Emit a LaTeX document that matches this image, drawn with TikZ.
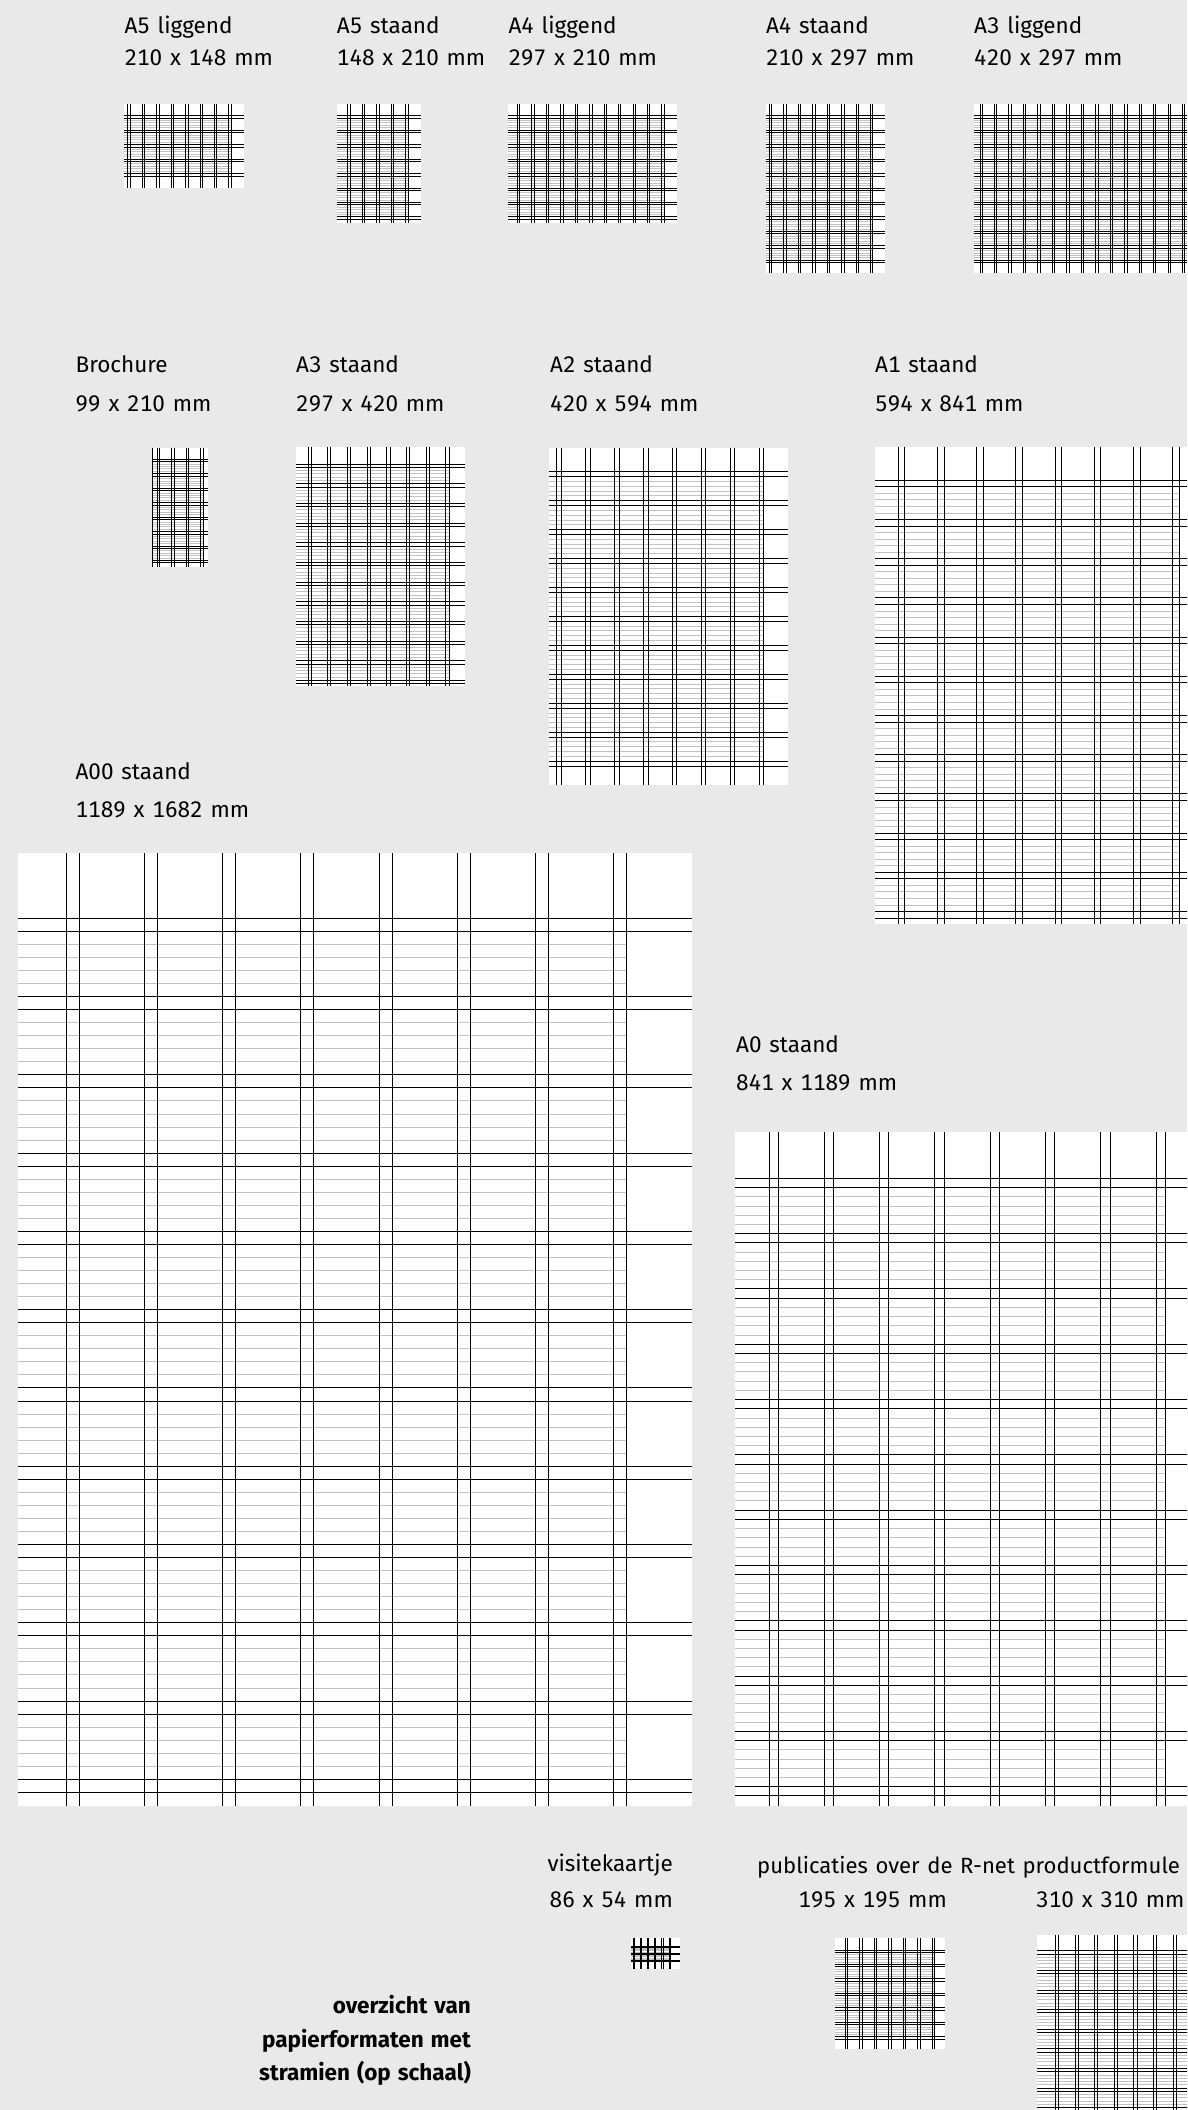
\documentclass[tikz,border=0pt]{standalone}
\usepackage{fontspec}
\setmainfont{Fira Sans}[Numbers=Monospaced,WordSpace=1.3]
\definecolor{bgc}{RGB}{233,233,233}
\tikzset{
  darkln/.style={draw=black,line width=0.9pt},
  lightln/.style={draw=black!24,line width=0.9pt},
  lbl/.style={font=\fontsize{22.5}{27}\selectfont,inner sep=0pt,anchor=base west},
  lblr/.style={lbl,anchor=base east},
  lblb/.style={lbl,anchor=base east,font=\fontsize{22.5}{27}\selectfont\bfseries},
}
% #1 x, #2 y, #3 w, #4 h, #5 module, #6 first vertical, #7 column pairs, #8 first horizontal, #9 row pairs
\newcommand{\stramien}[9]{%
  \pgfmathsetmacro{\sxL}{#6+(6*(#7-1)+1)*#5}%
  \pgfmathtruncatemacro{\snr}{#9-2}%
  \pgfmathtruncatemacro{\snrr}{#9-1}%
  \pgfmathtruncatemacro{\sncc}{#7-1}%
  \fill[white] (#1,#2) rectangle ({#1+#3},{#2+#4});
  \ifnum\snr>-1
  \foreach \ii in {0,...,\snr}{\foreach \jj in {2,...,5}{%
    \draw[lightln] (#1,{#8+(6*\ii+\jj)*#5}) -- (\sxL,{#8+(6*\ii+\jj)*#5});}}
  \fi
  \foreach \ii in {0,...,\snrr}{\foreach \jj in {0,1}{%
    \draw[darkln] (#1,{#8+(6*\ii+\jj)*#5}) -- ({#1+#3},{#8+(6*\ii+\jj)*#5});}}
  \foreach \ii in {0,...,\sncc}{\foreach \jj in {0,1}{%
    \draw[darkln] ({#6+(6*\ii+\jj)*#5},#2) -- ({#6+(6*\ii+\jj)*#5},{#2+#4});}}
}
\begin{document}
\begin{tikzpicture}[x=1pt,y=-1pt]
\fill[bgc] (0,0) rectangle (1187,2110);
\useasboundingbox (0,0) rectangle (1187,2110);
\begin{scope}
\clip (0,0) rectangle (1187,2110);
% row 1
\stramien{124.3}{104}{119.2}{84}{2.41}{127.7}{8}{115.7}{5}
\stramien{336.5}{104}{84}{119.2}{2.41}{347.7}{5}{115.7}{8}
\stramien{508.3}{104}{168.5}{119.2}{2.41}{517.3}{11}{115.7}{8}
\stramien{765.5}{104}{119.2}{168.5}{2.41}{769.3}{8}{115.7}{11}
\stramien{973.5}{104}{238.3}{168.5}{2.41}{980}{16}{115.7}{11}
% row 2
\stramien{152}{447.7}{56.2}{119}{2.41}{157.3}{4}{459.3}{8}
\draw[darkln] (152.6,447.7) -- (152.6,566.7);
\stramien{296}{447}{168.5}{238.5}{3.278}{308}{8}{464}{12}
\stramien{549}{447.7}{239}{337}{4.825}{556.3}{8}{471.7}{11}
\stramien{875}{446.7}{337}{477}{6.533}{898.3}{8}{480.3}{12}
% large
\stramien{17.7}{852.7}{674.5}{953}{13.045}{66}{8}{918.3}{12}
\stramien{735}{1131.7}{477}{674}{9.217}{769}{8}{1178.3}{12}
% bottom
\stramien{631}{1938}{48.8}{30.6}{1.2}{633}{6}{1946}{3}
\stramien{834.5}{1938}{110.6}{110.6}{2.41}{845.3}{7}{1950}{7}
\stramien{1036.5}{1935}{176}{176}{3.27}{1055.4}{8}{1950.7}{9}
\end{scope}
% labels
\node[lbl] (a5l1) at (124.3,33.3) {A5 liggend};
\node[lbl] (a5l2) at (124.3,65) {210 x 148 mm};
\node[lbl] (a5s1) at (336.7,33.3) {A5 staand};
\node[lbl] (a5s2) at (336.7,65) {148 x 210 mm};
\node[lbl] (a4l1) at (508.3,33.3) {A4 liggend};
\node[lbl] (a4l2) at (508.3,65) {297 x 210 mm};
\node[lbl] (a4s1) at (765.8,33.3) {A4 staand};
\node[lbl] (a4s2) at (765.8,65) {210 x 297 mm};
\node[lbl] (a3l1) at (974,33.3) {A3 liggend};
\node[lbl] (a3l2) at (974,65) {420 x 297 mm};
\node[lbl] (br1) at (75.4,372.7) {Brochure};
\node[lbl] (br2) at (75.4,411.7) {99 x 210 mm};
\node[lbl] (a3s1) at (296,372.7) {A3 staand};
\node[lbl] (a3s2) at (296,411.7) {297 x 420 mm};
\node[lbl] (a2s1) at (550,372.7) {A2 staand};
\node[lbl] (a2s2) at (550,411.7) {420 x 594 mm};
\node[lbl] (a1s1) at (875,372.7) {A1 staand};
\node[lbl] (a1s2) at (875,411.7) {594 x 841 mm};
\node[lbl] (a001) at (75.4,779) {A00 staand};
\node[lbl] (a002) at (75.4,817) {1189 x 1682 mm};
\node[lbl] (a01) at (736,1052) {A0 staand};
\node[lbl] (a02) at (736,1090) {841 x 1189 mm};
\node[lblr] (vk1) at (673,1871) {visitekaartje};
\node[lblr] (vk2) at (673,1907) {86 x 54 mm};
\node[lbl,font=\fontsize{22.1}{27}\selectfont] (pub) at (757,1873) {publicaties over de R-net productformule};
\node[lblr] (p195) at (947,1907) {195 x 195 mm};
\node[lbl] (p310) at (1036,1907) {310 x 310 mm};
\node[lblb] (t1) at (471,2013) {overzicht van};
\node[lblb] (t2) at (471,2047) {papierformaten met};
\node[lblb] (t3) at (471,2080.5) {stramien (op schaal)};
\end{tikzpicture}
\end{document}
